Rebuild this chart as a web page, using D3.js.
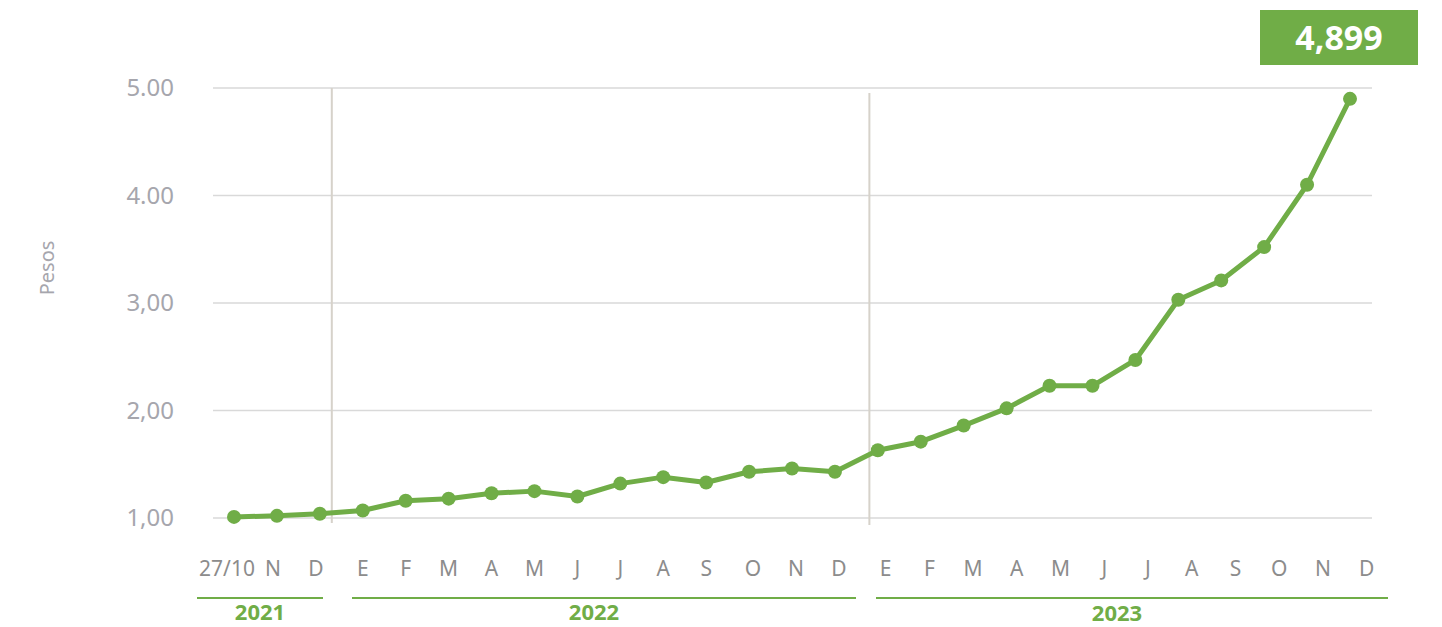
<!DOCTYPE html>
<html>
<head>
<meta charset="utf-8">
<script src="https://cdn.jsdelivr.net/npm/d3@7"></script>
<style>
  body { margin: 0; background: #fff; }
  text { font-family: "Noto Sans", "Open Sans", sans-serif; }
</style>
</head>
<body>
<script>
// datos
const months = ["27/10", "N", "D",
  "E", "F", "M", "A", "M", "J", "J", "A", "S", "O", "N", "D",
  "E", "F", "M", "A", "M", "J", "J", "A", "S", "O", "N", "D"];
const values = [1.01, 1.02, 1.04,
  1.07, 1.16, 1.18, 1.23, 1.25, 1.20, 1.32, 1.38, 1.33, 1.43, 1.46, 1.43,
  1.63, 1.71, 1.86, 2.02, 2.23, 2.23, 2.47, 3.03, 3.21, 3.52, 4.10, 4.899];
const yTicks = [1, 2, 3, 4, 5];
const yTickLabels = ["1,00", "2,00", "3,00", "4.00", "5.00"];
const years = ["2021", "2022", "2023"];
const lastLabel = "4,899";

const width = 1442, height = 627;
const green = "#70ad47";
const svg = d3.select("body").append("svg")
  .attr("width", width)
  .attr("height", height);

const x = d3.scalePoint().domain(d3.range(months.length)).range([234, 1350]);
const y = d3.scaleLinear().domain([1, 5]).range([518, 88]);

// líneas de la grilla
svg.append("g")
  .selectAll("line")
  .data(yTicks)
  .enter().append("line")
  .attr("x1", 213).attr("x2", 1372)
  .attr("y1", d => y(d)).attr("y2", d => y(d))
  .style("stroke", "#d9d9d9")
  .style("stroke-width", 1.5);

// etiquetas eje y
svg.append("g")
  .selectAll("text")
  .data(yTicks)
  .enter().append("text")
  .attr("x", 174)
  .attr("y", d => y(d))
  .attr("dy", "0.35em")
  .attr("text-anchor", "end")
  .style("font-size", "24px")
  .style("fill", "#a6a6ad")
  .text((d, i) => yTickLabels[i]);

svg.append("text")
  .attr("transform", "translate(54,268) rotate(-90)")
  .attr("text-anchor", "middle")
  .style("font-size", "20px")
  .style("fill", "#a6a6ad")
  .text("Pesos");

// separadores de año
const sepX = [(x(2) + x(3)) / 2 - 9.5, (x(14) + x(15)) / 2 + 13];
svg.append("g")
  .selectAll("line")
  .data(sepX)
  .enter().append("line")
  .attr("x1", d => d).attr("x2", d => d)
  .attr("y1", (d, i) => i === 0 ? 88 : 93)
  .attr("y2", (d, i) => i === 0 ? 523 : 525)
  .style("stroke", "#d6d2ca")
  .style("stroke-width", 2);

// línea
const line = d3.line().x((d, i) => x(i)).y(d => y(d));
svg.append("path")
  .datum(values)
  .attr("d", line)
  .style("fill", "none")
  .style("stroke", green)
  .style("stroke-width", 5)
  .style("stroke-linejoin", "round");

svg.append("g")
  .selectAll("circle")
  .data(values)
  .enter().append("circle")
  .attr("cx", (d, i) => x(i))
  .attr("cy", d => y(d))
  .attr("r", 7)
  .style("fill", green);

// etiquetas de meses
svg.append("g")
  .selectAll("text")
  .data(months)
  .enter().append("text")
  .attr("x", (d, i) => i === 0 ? x(i) - 7 : x(i) + (i > 14 ? (i - 14) * 0.8 + 7 : (i > 11 ? 4 : 0)) - (i < 3 ? 4 : 0))
  .attr("y", 576)
  .attr("text-anchor", "middle")
  .style("font-size", "21px")
  .style("fill", "#8c8c8c")
  .text(d => d);

// años
const yearLines = [[197, 323], [352, 856], [876, 1388]];
const yearG = svg.append("g");
yearG.selectAll("line")
  .data(yearLines)
  .enter().append("line")
  .attr("x1", d => d[0]).attr("x2", d => d[1])
  .attr("y1", 598).attr("y2", 598)
  .style("stroke", green)
  .style("stroke-width", 2);
yearG.selectAll("text")
  .data(years)
  .enter().append("text")
  .attr("x", (d, i) => [260, 594, 1117][i])
  .attr("y", (d, i) => i === 2 ? 621 : 620)
  .attr("text-anchor", "middle")
  .style("font-size", "22px")
  .style("font-weight", "bold")
  .style("fill", green)
  .text(d => d);

// valor final
svg.append("rect")
  .attr("x", 1260).attr("y", 10)
  .attr("width", 158).attr("height", 55)
  .style("fill", green);
svg.append("text")
  .attr("x", 1339).attr("y", 38)
  .attr("dy", "0.35em")
  .attr("text-anchor", "middle")
  .style("font-size", "34px")
  .style("font-weight", "bold")
  .style("fill", "#fff")
  .text(lastLabel);
</script>
</body>
</html>
